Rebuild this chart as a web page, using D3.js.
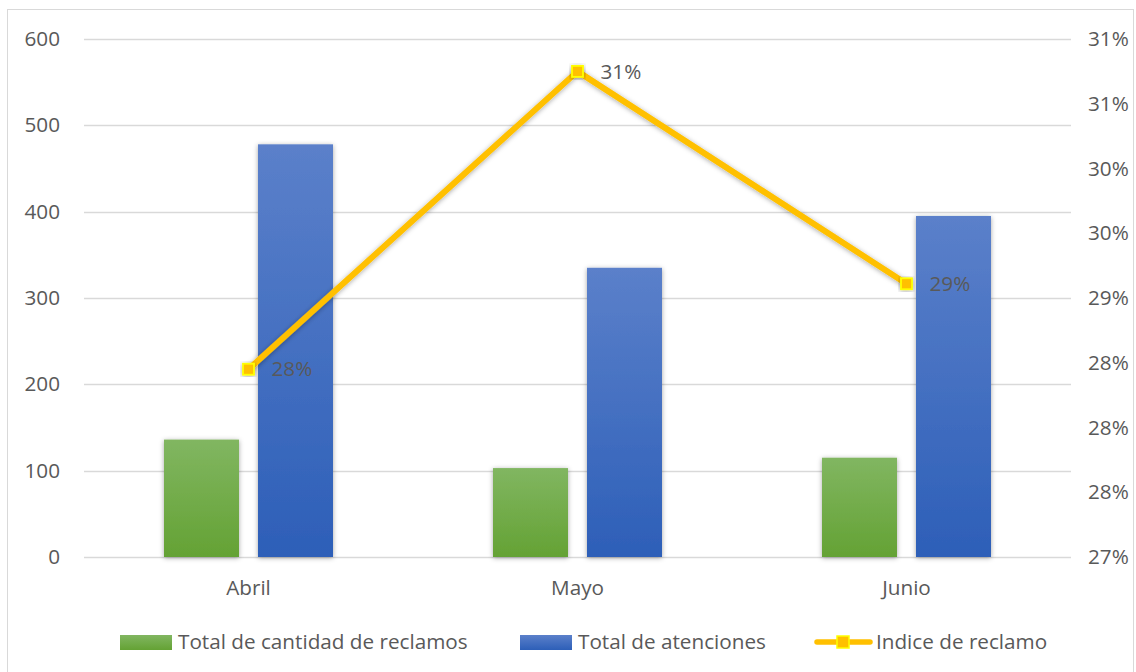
<!DOCTYPE html>
<html>
<head>
<meta charset="utf-8">
<script src="https://cdn.jsdelivr.net/npm/d3@7"></script>
<style>
  html, body { margin: 0; padding: 0; background: #fff; }
  svg { display: block; }
  text { font-family: "Open Sans", "Noto Sans", sans-serif; fill: #595959; }
</style>
</head>
<body>
<svg id="chart" width="1136" height="672"></svg>
<script>
// Monthly data
const months = ["Abril", "Mayo", "Junio"];
const reclamos = [136, 103, 115];
const atenciones = [478, 335, 395];
const indice = [0.2845, 0.3075, 0.2911];
const leftTicks = [0, 100, 200, 300, 400, 500, 600];
const rightTicks = [0.27, 0.275, 0.28, 0.285, 0.29, 0.295, 0.30, 0.305, 0.31];
const seriesNames = ["Total de cantidad de reclamos", "Total de atenciones", "Indice de reclamo"];

const FS = "20.7px";
const svg = d3.select("#chart");
const margin = { left: 84, right: 1071, top: 39, bottom: 557 };

const defs = svg.append("defs");
const gGreen = defs.append("linearGradient").attr("id", "gGreen").attr("x1", 0).attr("y1", 0).attr("x2", 0).attr("y2", 1);
gGreen.append("stop").attr("offset", "0%").attr("stop-color", "#81b661");
gGreen.append("stop").attr("offset", "100%").attr("stop-color", "#64a234");
const gBlue = defs.append("linearGradient").attr("id", "gBlue").attr("x1", 0).attr("y1", 0).attr("x2", 0).attr("y2", 1);
gBlue.append("stop").attr("offset", "0%").attr("stop-color", "#5b80ca");
gBlue.append("stop").attr("offset", "100%").attr("stop-color", "#2d5fb8");
const shadow = defs.append("filter").attr("id", "shadow").attr("x", "-20%").attr("y", "-20%").attr("width", "140%").attr("height", "140%");
shadow.append("feDropShadow").attr("dx", 0).attr("dy", 1).attr("stdDeviation", 2.5).attr("flood-color", "#000").attr("flood-opacity", 0.35);

// Outer frame
svg.append("rect").attr("x", 7.5).attr("y", 9.5).attr("width", 1126).attr("height", 680)
  .attr("fill", "none").attr("stroke", "#d9d9d9");

const x = d3.scaleBand().domain(months).range([margin.left, margin.right]);
const yL = d3.scaleLinear().domain([0, 600]).range([margin.bottom, margin.top]);
const yR = d3.scaleLinear().domain([0.27, 0.31]).range([margin.bottom, margin.top]);

// Gridlines
svg.append("g").selectAll("line").data(leftTicks).join("line")
  .attr("x1", margin.left).attr("x2", margin.right)
  .attr("y1", d => Math.round(yL(d)) + 0.5).attr("y2", d => Math.round(yL(d)) + 0.5)
  .attr("stroke", "#d9d9d9").attr("stroke-width", 1.3);

function styleAxis(g) {
  g.select(".domain").remove();
  g.selectAll("text").style("font-size", FS).attr("fill", "#595959")
    .style("font-family", "'Open Sans', sans-serif");
}

// Left axis
svg.append("g").attr("transform", `translate(${margin.left},0)`)
  .call(d3.axisLeft(yL).tickValues(leftTicks).tickSize(0).tickPadding(24))
  .call(styleAxis);

// Right axis
const fmtPct = d3.format(".0%");
svg.append("g").attr("transform", `translate(${margin.right},0)`)
  .call(d3.axisRight(yR).tickValues(rightTicks).tickFormat(fmtPct).tickSize(0).tickPadding(17))
  .call(styleAxis);

// Bottom axis
svg.append("g").attr("transform", `translate(0,${margin.bottom})`)
  .call(d3.axisBottom(x).tickSize(0).tickPadding(23))
  .call(styleAxis);

// Bars
const barW = 75, gap = 19;
const barData = [];
months.forEach((m, i) => {
  const c = x(m) + x.bandwidth() / 2;
  barData.push({ x: c - gap / 2 - barW, v: reclamos[i], fill: "url(#gGreen)" });
  barData.push({ x: c + gap / 2, v: atenciones[i], fill: "url(#gBlue)" });
});
svg.append("g").selectAll("rect").data(barData).join("rect")
  .attr("x", d => d.x).attr("width", barW)
  .attr("y", d => yL(d.v)).attr("height", d => yL(0) - yL(d.v))
  .attr("fill", d => d.fill).attr("filter", "url(#shadow)");

// Line series
const cx = m => x(m) + x.bandwidth() / 2;
const line = d3.line().x((d, i) => cx(months[i])).y(d => yR(d));
svg.append("path").datum(indice).attr("d", line)
  .attr("fill", "none").attr("stroke", "#ffc000").attr("stroke-width", 6)
  .attr("stroke-linejoin", "round").attr("filter", "url(#shadow)");

const ms = 11;
svg.append("g").selectAll("rect").data(indice).join("rect")
  .attr("x", (d, i) => cx(months[i]) - ms / 2).attr("y", d => yR(d) - ms / 2)
  .attr("width", ms).attr("height", ms)
  .attr("fill", "#ffc000").attr("stroke", "#ffff00").attr("stroke-width", 1.8)
  .attr("filter", "url(#shadow)");

// Value labels
svg.append("g").selectAll("text").data(indice).join("text")
  .attr("x", (d, i) => cx(months[i]) + 23).attr("y", d => yR(d))
  .attr("dy", "0.35em").style("font-size", FS).attr("fill", "#404040")
  .text(d => fmtPct(d));

// Legend
const legY = 642;
const leg = svg.append("g");
const items = [
  { x: 120, type: "bar", fill: "url(#gGreen)" },
  { x: 520, type: "bar", fill: "url(#gBlue)" },
  { x: 815, type: "line" }
];
items.forEach((it, i) => {
  if (it.type === "bar") {
    leg.append("rect").attr("x", it.x).attr("y", legY - 7).attr("width", 52).attr("height", 15).attr("fill", it.fill);
    leg.append("text").attr("x", it.x + 58).attr("y", legY).attr("dy", "0.35em")
      .style("font-size", FS).text(seriesNames[i]);
  } else {
    leg.append("line").attr("x1", it.x + 2).attr("x2", it.x + 55).attr("y1", legY).attr("y2", legY)
      .attr("stroke", "#ffc000").attr("stroke-width", 5.5).attr("stroke-linecap", "round");
    leg.append("rect").attr("x", it.x + 22).attr("y", legY - 6).attr("width", 12).attr("height", 12)
      .attr("fill", "#ffc000").attr("stroke", "#ffff00").attr("stroke-width", 1.5);
    leg.append("text").attr("x", it.x + 61).attr("y", legY).attr("dy", "0.35em")
      .style("font-size", FS).text(seriesNames[i]);
  }
});
</script>
</body>
</html>
